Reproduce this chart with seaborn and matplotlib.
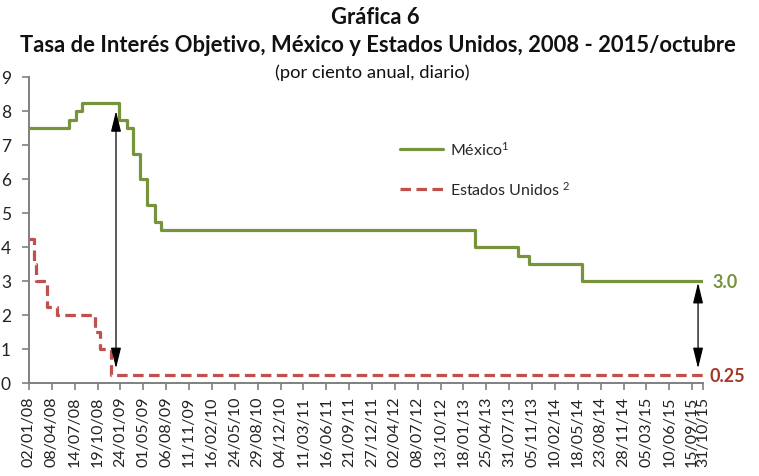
import pandas as pd
import matplotlib.pyplot as plt
import seaborn as sns

# Tasa objetivo Banxico (fecha de cambio, nivel)
mx_fechas = ["2008-01-02", "2008-06-20", "2008-07-18", "2008-08-15", "2009-01-16",
             "2009-02-20", "2009-03-20", "2009-04-17", "2009-05-15", "2009-06-19",
             "2009-07-17", "2013-03-08", "2013-09-06", "2013-10-25", "2014-06-06",
             "2015-10-31"]
mx_tasas = [7.50, 7.75, 8.00, 8.25, 7.75, 7.50, 6.75, 6.00, 5.25, 4.75,
            4.50, 4.00, 3.75, 3.50, 3.00, 3.00]

# Tasa objetivo Fed
us_fechas = ["2008-01-02", "2008-01-22", "2008-01-30", "2008-03-18", "2008-04-30",
             "2008-10-08", "2008-10-29", "2008-12-16", "2015-10-31"]
us_tasas = [4.25, 3.50, 3.00, 2.25, 2.00, 1.50, 1.00, 0.25, 0.25]

paises = ["México", "Estados Unidos"]
etiquetas = ["México$^1$", "Estados Unidos $^2$"]
colores = {"México": "#77933C", "Estados Unidos": "#C0504D"}

# flechas de diferencial (fecha, desde, hasta)
flecha_fechas = ["2009-01-05", "2015-10-10"]
flecha_desde = [8.0, 2.95]
flecha_hasta = [0.43, 0.43]

inicio, fin = pd.Timestamp("2008-01-02"), pd.Timestamp("2015-10-31")


def armar_datos() -> pd.DataFrame:
    mx = pd.DataFrame({"fecha": pd.to_datetime(mx_fechas), "tasa": mx_tasas, "pais": "México"})
    us = pd.DataFrame({"fecha": pd.to_datetime(us_fechas), "tasa": us_tasas, "pais": "Estados Unidos"})
    return pd.concat([mx, us], ignore_index=True)


df = armar_datos()

sns.set_style("ticks")
plt.rcParams["font.family"] = ["Lato", "DejaVu Sans"]
plt.rcParams["mathtext.fontset"] = "custom"
plt.rcParams["mathtext.rm"] = "Lato"
plt.rcParams["mathtext.it"] = "Lato"

fig = plt.figure(figsize=(7.59, 4.77), dpi=100)
ax = fig.add_axes([29 / 759, 1 - 384 / 477, 674 / 759, 306 / 477])

sns.lineplot(data=df, x="fecha", y="tasa", hue="pais", style="pais",
             hue_order=paises, style_order=paises, palette=colores,
             dashes={"México": "", "Estados Unidos": (3.3, 1.7)},
             drawstyle="steps-post", linewidth=2.3, estimator=None,
             ax=ax)

ax.set_xlim(inicio, fin)
ax.set_ylim(0, 9)
ax.set_yticks(range(0, 10))

ticks = list(pd.date_range(inicio, fin, freq="97D")) + [fin]
ax.set_xticks(ticks)
ax.set_xticklabels([t.strftime("%d/%m/%y") for t in ticks], rotation=90)
ax.tick_params(axis="x", labelsize=11.5, colors="#808080", labelcolor="#222222",
               length=5, width=1.2, pad=4)
ax.tick_params(axis="y", labelsize=12.5, colors="#808080", labelcolor="#222222",
               length=5, width=1.2, pad=8)
ax.set_xlabel("")
ax.set_ylabel("")
sns.despine(ax=ax)
for s in ["left", "bottom"]:
    ax.spines[s].set_color("#808080")
    ax.spines[s].set_linewidth(1.4)

handles, _ = ax.get_legend_handles_labels()
ax.legend(handles[-2:], etiquetas, loc="upper left", frameon=False,
          bbox_to_anchor=(400 / 759, 1 - 141 / 477), bbox_transform=fig.transFigure,
          fontsize=11.5, handlelength=2.7, handletextpad=0.4, labelspacing=1.35,
          borderpad=0, borderaxespad=0)

# valores finales
ax.annotate(f"{mx_tasas[-1]:.1f}", xy=(fin, mx_tasas[-1]), xytext=(7, 0),
            textcoords="offset points", va="center", ha="left",
            fontsize=13, fontweight="bold", color="#76923C", annotation_clip=False)
ax.annotate(f"{us_tasas[-1]:.2f}", xy=(fin, us_tasas[-1]), xytext=(5, -1),
            textcoords="offset points", va="center", ha="left",
            fontsize=13, fontweight="bold", color="#A33A26", annotation_clip=False)

for f, a, b in zip(flecha_fechas, flecha_desde, flecha_hasta):
    ax.annotate("", xy=(pd.Timestamp(f), b), xytext=(pd.Timestamp(f), a),
                arrowprops=dict(arrowstyle="<|-|>,head_length=0.9,head_width=0.22",
                                color="black", lw=0.9, shrinkA=0, shrinkB=0,
                                mutation_scale=14))

fig.text(375 / 759, 1 - 17 / 477, "Gráfica 6", ha="center", va="center",
         fontsize=15.8, fontweight="bold", color="#111111")
fig.text(378 / 759, 1 - 45 / 477,
         "Tasa de Interés Objetivo, México y Estados Unidos, 2008 - 2015/octubre",
         ha="center", va="center", fontsize=15.8, fontweight="bold", color="#111111")
fig.text(372 / 759, 1 - 73 / 477, "(por ciento anual, diario)", ha="center",
         va="center", fontsize=13.2, color="#111111")

fig.savefig("out.png", dpi=100)
